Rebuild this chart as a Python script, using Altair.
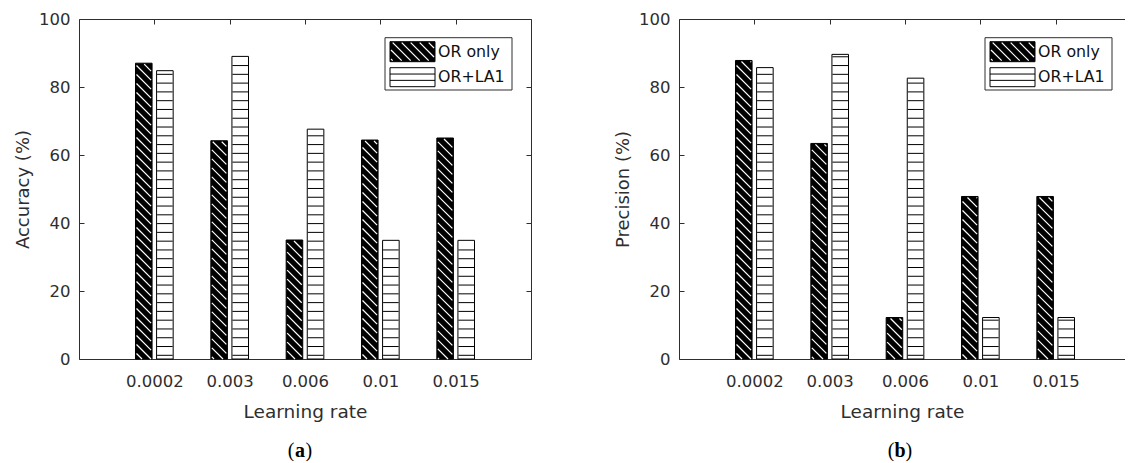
import json
import numpy as np
import pandas as pd
import altair as alt

# ---- data -------------------------------------------------------------
rates = ["0.0002", "0.003", "0.006", "0.01", "0.015"]
series = ["OR only", "OR+LA1"]
accuracy_or_only = [87.0, 64.2, 35.0, 64.4, 65.0]
accuracy_or_la1 = [84.8, 89.0, 67.6, 34.9, 34.9]
precision_or_only = [87.8, 63.4, 12.2, 47.8, 47.8]
precision_or_la1 = [85.7, 89.6, 82.6, 12.2, 12.2]
y_ticks = [0, 20, 40, 60, 80, 100]
x_ticks = [1, 2, 3, 4, 5]

# ---- geometry / style -------------------------------------------------
PLOT_W = 452
PLOT_H = 340
X_MAX = 6.0
KX = PLOT_W / X_MAX          # px per x unit
KY = PLOT_H / 100.0          # px per y unit
BAR_OFFSET = 0.14
BAR_W = 0.22
INK = "#2e2e2e"
FONT = "DejaVu Sans"
DIAG_STEP = 9.0              # px between white diagonal hatch lines
STRIPE_STEP = 8.78           # px between horizontal stripes
STRIPE_PHASE = 3.7           # px of first stripe above the baseline

# legend layout (data units)
LEG_BOX = dict(x=306 / KX, x2=433 / KX, y=100 - 71 / KY, y2=100 - 18.7 / KY)
LEG_SW_X = (311 / KX, 356 / KX)
LEG_ROWS = [(100 - 42.7 / KY, 100 - 22.7 / KY), (100 - 67.7 / KY, 100 - 48.7 / KY)]
LEG_TEXT_X = 359 / KX


def diag_lines(x0, x1, y0, y1):
    """White 45-degree hatch segments clipped to a rectangle (data units)."""
    segs = []
    cmin = x0 * KX + y0 * KY
    cmax = x1 * KX + y1 * KY
    for j in range(int(np.ceil(cmin / DIAG_STEP)), int(np.floor(cmax / DIAG_STEP)) + 1):
        c = j * DIAG_STEP
        xa = max(x0, (c - y1 * KY) / KX)
        xb = min(x1, (c - y0 * KY) / KX)
        if xb - xa > 1e-6:
            segs.append(dict(x=xa, y=(c - xa * KX) / KY, x2=xb, y2=(c - xb * KX) / KY))
    return segs


def stripe_lines(x0, x1, y0, y1):
    segs = []
    k = 0
    while True:
        yy = (STRIPE_PHASE + k * STRIPE_STEP) / KY
        if yy >= y1 - 1.0 / KY:
            break
        if yy > y0:
            segs.append(dict(x=x0, y=yy, x2=x1, y2=yy))
        k += 1
    return segs


def build_rows(v_or, v_la):
    rects, diag, stripes = [], [], []
    for i, (a, b) in zip(x_ticks, zip(v_or, v_la)):
        for s, v, off in ((series[0], a, -BAR_OFFSET), (series[1], b, BAR_OFFSET)):
            x0, x1 = i + off - BAR_W / 2, i + off + BAR_W / 2
            rects.append(dict(series=s, x=x0, x2=x1, y=0.0, y2=v))
            ix, iy = 1.0 / KX, 1.0 / KY
            if s == series[0]:
                diag += diag_lines(x0 + ix, x1 - ix, 0.0, v - iy)
            else:
                stripes += stripe_lines(x0 + 0.5 * ix, x1 - 0.5 * ix, 0.0, v)
    # legend swatches
    for s, (ya, yb) in zip(series, LEG_ROWS):
        x0, x1 = LEG_SW_X
        rects.append(dict(series=s, x=x0, x2=x1, y=ya, y2=yb))
        if s == series[0]:
            diag += diag_lines(x0 + 1 / KX, x1 - 1 / KX, ya + 1 / KY, yb - 1 / KY)
        else:
            h = yb - ya
            for f in (1 / 3, 2 / 3):
                stripes.append(dict(x=x0, y=ya + f * h, x2=x1, y2=ya + f * h))
    return pd.DataFrame(rects), pd.DataFrame(diag), pd.DataFrame(stripes)


def tick_axis(orient, values):
    return alt.Axis(orient=orient, values=values, offset=-5, tickSize=5, ticks=True,
                    tickColor=INK, tickWidth=1, labels=False, domain=False,
                    grid=False, title=None)


def border_axis(orient):
    return alt.Axis(orient=orient, ticks=False, labels=False, domain=True,
                    domainColor=INK, domainWidth=1, grid=False, title=None)


def panel(v_or, v_la, ytitle, letter, width, right_side):
    x_max = width / KX
    xs = alt.Scale(domain=[0, x_max], nice=False, zero=False)
    ys = alt.Scale(domain=[0, 100], nice=False, zero=False)
    rects, diag, stripes = build_rows(v_or, v_la)
    label_expr = json.dumps([""] + rates) + "[datum.value]"

    box = alt.Chart(pd.DataFrame([LEG_BOX])).mark_rect(
        fill="white", stroke=INK, strokeWidth=1
    ).encode(
        x=alt.X("x:Q", scale=xs, axis=None),
        x2="x2:Q",
        y=alt.Y("y:Q", scale=ys, axis=tick_axis("left", y_ticks)),
        y2="y2:Q",
    )

    bars = alt.Chart(rects).mark_rect(stroke="black", strokeWidth=1).encode(
        x=alt.X("x:Q", scale=xs, axis=alt.Axis(
            orient="bottom", values=x_ticks, labelExpr=label_expr, ticks=False,
            domain=True, domainColor=INK, domainWidth=1, grid=False,
            labelPadding=14, labelFontSize=16.5, labelFont=FONT, labelColor=INK,
            title="Learning rate", titleFont=FONT, titleFontSize=18.5,
            titleFontWeight="normal", titleColor=INK, titlePadding=13)),
        x2="x2:Q",
        y=alt.Y("y:Q", scale=ys, axis=alt.Axis(
            orient="left", values=y_ticks, ticks=False, domain=True,
            domainColor=INK, domainWidth=1, grid=False, labelPadding=9,
            labelFontSize=16.5, labelFont=FONT, labelColor=INK,
            title=ytitle, titleFont=FONT, titleFontSize=18,
            titleFontWeight="normal", titleColor=INK, titlePadding=6)),
        y2="y2:Q",
        fill=alt.Fill("series:N", scale=alt.Scale(domain=series, range=["black", "white"]),
                      legend=None),
    )

    hatch = alt.Chart(diag).mark_rule(color="white", strokeWidth=1.2).encode(
        x=alt.X("x:Q", scale=xs, axis=border_axis("top")),
        x2="x2:Q",
        y=alt.Y("y:Q", scale=ys, axis=border_axis("right") if right_side else None),
        y2="y2:Q",
    )

    stripe = alt.Chart(stripes).mark_rule(color="black", strokeWidth=1).encode(
        x=alt.X("x:Q", scale=xs, axis=tick_axis("top", x_ticks)),
        x2="x2:Q",
        y=alt.Y("y:Q", scale=ys, axis=tick_axis("right", y_ticks) if right_side else None),
        y2="y2:Q",
    )

    leg_text = alt.Chart(pd.DataFrame({
        "label": series,
        "x": [LEG_TEXT_X] * 2,
        "y": [(a + b) / 2 for a, b in LEG_ROWS],
    })).mark_text(align="left", baseline="middle", font=FONT, fontSize=15.8,
                  color="#111111").encode(
        x=alt.X("x:Q", scale=xs, axis=None),
        y=alt.Y("y:Q", scale=ys, axis=None),
        text="label:N",
    )

    cap_x = 221
    cap_y = 432
    cap_font = "Liberation Serif"
    cap_size = 20
    cap_l = alt.Chart(pd.DataFrame({"t": ["("]})).mark_text(
        align="right", baseline="middle", font=cap_font, fontSize=cap_size, color="black"
    ).encode(x=alt.value(cap_x - 5.5), y=alt.value(cap_y), text="t:N")
    cap_m = alt.Chart(pd.DataFrame({"t": [letter]})).mark_text(
        align="center", baseline="middle", font=cap_font, fontSize=cap_size,
        fontWeight="bold", color="black"
    ).encode(x=alt.value(cap_x), y=alt.value(cap_y), text="t:N")
    cap_r = alt.Chart(pd.DataFrame({"t": [")"]})).mark_text(
        align="left", baseline="middle", font=cap_font, fontSize=cap_size, color="black"
    ).encode(x=alt.value(cap_x + 5.5), y=alt.value(cap_y), text="t:N")

    return alt.layer(box, bars, hatch, stripe, leg_text, cap_l, cap_m, cap_r).resolve_axis(
        x="independent", y="independent"
    ).properties(width=width, height=PLOT_H)


panel_a = panel(accuracy_or_only, accuracy_or_la1, "Accuracy (%)", "a", PLOT_W, True)
panel_b = panel(precision_or_only, precision_or_la1, "Precision (%)", "b", 446, False)

chart = alt.hconcat(panel_a, panel_b, spacing=148, bounds="flush").properties(
    padding={"left": 14, "top": 11, "right": 0, "bottom": 0},
    background="white",
).configure_view(stroke=None)

chart.save("out.html", embed_options={"renderer": "svg", "actions": False})
